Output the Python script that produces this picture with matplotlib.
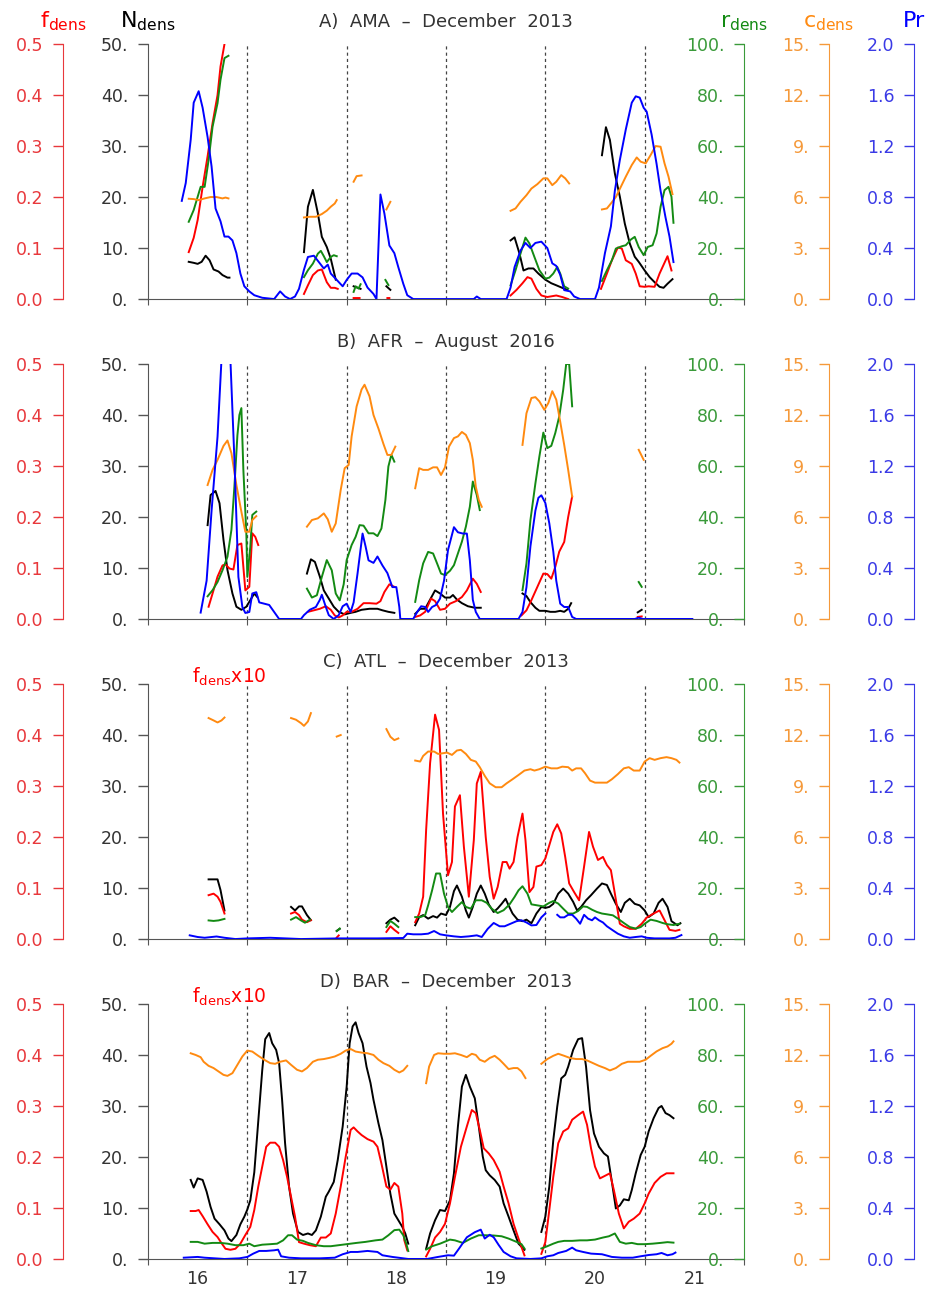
import numpy as np
import matplotlib
matplotlib.use('Agg')
import matplotlib.pyplot as plt

# ---------------- data (None = gap in the record) ----------------
# A) AMA - December 2013
ama_t_N = [15.91, 15.96, 16.00, 16.04, 16.08, 16.12, 16.16, 16.21, 16.25, 16.30, 16.32, None,
           17.07, 17.11, 17.16, 17.21, 17.25, 17.30, 17.34, 17.39, None,
           17.57, 17.64, None, 17.90, 17.94, None,
           19.15, 19.19, 19.24, 19.28, 19.33, 19.38, 19.43, 19.50, 19.56, 19.61, 19.67, 19.72, None,
           20.07, 20.11, 20.15, 20.20, 20.25, 20.30, 20.35, 20.40, 20.44, 20.50, 20.55, 20.60, 20.65, 20.69, 20.73, 20.78]
ama_N = [7.3, 7.1, 6.9, 7.3, 8.5, 7.6, 5.8, 5.4, 4.7, 4.2, 4.2, None,
         9.2, 18.1, 21.4, 16.8, 12.2, 10.2, 7.9, 3.8, None,
         2.5, 2.0, None, 2.5, 1.8, None,
         11.5, 12.1, 8.9, 5.6, 6.0, 6.0, 5.0, 3.8, 3.1, 2.7, 2.2, 1.8, None,
         28.2, 33.7, 31.2, 24.6, 20.1, 14.8, 10.9, 8.3, 7.3, 5.6, 4.3, 3.3, 2.4, 2.2, 3.0, 3.9]
ama_t_f = [15.91, 15.96, 16.00, 16.05, 16.10, 16.15, 16.20, 16.23, 16.27, None,
           17.07, 17.11, 17.16, 17.21, 17.25, 17.30, 17.34, 17.38, 17.41, None,
           17.57, 17.63, None, 17.91, 17.93, None,
           19.15, 19.21, 19.27, 19.32, 19.36, 19.41, 19.46, 19.52, 19.61, 19.67, 19.73, None,
           20.06, 20.12, 20.17, 20.23, 20.27, 20.31, 20.37, 20.41, 20.45, 20.50, 20.54, 20.60, 20.65, 20.73, 20.77]
ama_f = [0.092, 0.12, 0.155, 0.22, 0.28, 0.345, 0.40, 0.456, 0.50, None,
         0.01, 0.027, 0.047, 0.056, 0.058, 0.033, 0.022, 0.022, 0.02, None,
         0.002, 0.002, None, 0.002, 0.002, None,
         0.007, 0.018, 0.031, 0.043, 0.04, 0.02, 0.007, 0.004, 0.007, 0.004, 0.0, None,
         0.02, 0.05, 0.076, 0.101, 0.099, 0.076, 0.069, 0.05, 0.025, 0.024, 0.025, 0.024, 0.05, 0.084, 0.056]
ama_t_r = [15.91, 15.96, 16.00, 16.03, 16.07, 16.11, 16.15, 16.20, 16.23, 16.27, 16.31, None,
           17.07, 17.11, 17.16, 17.21, 17.24, 17.27, 17.30, 17.34, 17.37, 17.40, None,
           17.57, 17.59, 17.62, 17.64, None, 17.89, 17.92, None,
           19.15, 19.20, 19.25, 19.30, 19.34, 19.39, 19.44, 19.50, 19.54, 19.58, 19.62, 19.65, 19.69, 19.73, None,
           20.07, 20.12, 20.17, 20.21, 20.27, 20.31, 20.36, 20.40, 20.44, 20.49, 20.53, 20.58, 20.62, 20.66,
           20.70, 20.74, 20.77, 20.79]
ama_r = [30.3, 34.9, 40.1, 44.0, 44.0, 54.5, 67.6, 76.8, 86.0, 94.5, 95.4, None,
         8.6, 11.3, 13.9, 17.8, 18.9, 16.8, 14.5, 16.5, 17.2, 16.8, None,
         2.8, 5.0, 4.1, 5.8, None, 7.5, 5.5, None,
         5.4, 11.3, 17.8, 24.1, 21.8, 16.5, 11.3, 8.0, 8.4, 10.0, 12.6, 10.0, 5.0, 4.1, None,
         7.1, 11.3, 15.2, 19.8, 20.7, 21.1, 23.3, 24.4, 20.4, 17.2, 20.4, 21.1, 25.7, 36.2,
         42.7, 44.0, 40.1, 29.9]
ama_t_c = [15.91, 15.96, 16.01, 16.07, 16.13, 16.19, 16.25, 16.28, 16.31, None,
           17.07, 17.13, 17.19, 17.25, 17.30, 17.34, 17.38, 17.40, None,
           17.57, 17.60, 17.65, None, 17.90, 17.94, None,
           19.15, 19.20, 19.25, 19.31, 19.36, 19.42, 19.48, 19.52, 19.57, 19.61, 19.66, 19.70, 19.74, None,
           20.07, 20.12, 20.16, 20.21, 20.26, 20.31, 20.37, 20.42, 20.46, 20.51, 20.56, 20.61, 20.66, 20.70,
           20.74, 20.78]
ama_c = [5.9, 5.88, 5.82, 5.92, 6.0, 6.0, 5.92, 5.97, 5.92, None,
         4.8, 4.84, 4.84, 5.0, 5.2, 5.43, 5.62, 5.82, None,
         6.9, 7.23, 7.27, None, 5.27, 5.72, None,
         5.19, 5.33, 5.72, 6.11, 6.5, 6.76, 7.1, 7.1, 6.7, 6.9, 7.29, 7.1, 6.8, None,
         5.27, 5.33, 5.62, 6.0, 6.6, 7.2, 7.88, 8.33, 8.08, 7.98, 8.47, 9.0, 8.96, 7.98,
         7.2, 6.17]
ama_t_pr = [15.84, 15.88, 15.93, 15.96, 16.01, 16.05, 16.10, 16.14, 16.18, 16.23, 16.27, 16.31, 16.35,
            16.39, 16.43, 16.47, 16.52, 16.57, 16.65, 16.77, 16.83, 16.88, 16.93, 16.98, 17.02, 17.07,
            17.11, 17.17, 17.22, 17.27, 17.31, 17.34, 17.40, 17.46, 17.50, 17.55, 17.61, 17.66, 17.71,
            17.77, 17.80, 17.84, 17.88, 17.93, 17.98, 18.02, 18.07, 18.11, 18.17, 18.78, 18.81, 18.85,
            19.11, 19.15, 19.19, 19.25, 19.30, 19.35, 19.40, 19.46, 19.52, 19.57, 19.61, 19.65, 19.69,
            19.75, 19.79, 19.85, 20.00, 20.04, 20.10, 20.16, 20.20, 20.25, 20.31, 20.37, 20.41, 20.45,
            20.49, 20.52, 20.57, 20.62, 20.66, 20.71, 20.75, 20.79]
ama_pr = [0.77, 0.91, 1.25, 1.54, 1.63, 1.50, 1.27, 1.04, 0.71, 0.61, 0.49, 0.49, 0.46,
          0.36, 0.20, 0.10, 0.06, 0.03, 0.01, 0.0, 0.06, 0.02, 0.0, 0.02, 0.08, 0.23,
          0.33, 0.34, 0.29, 0.24, 0.27, 0.20, 0.15, 0.10, 0.15, 0.20, 0.20, 0.17, 0.09,
          0.04, 0.0, 0.82, 0.67, 0.42, 0.36, 0.25, 0.12, 0.03, 0.0, 0.0, 0.02, 0.0,
          0.0, 0.09, 0.25, 0.38, 0.44, 0.40, 0.44, 0.45, 0.40, 0.28, 0.26, 0.19, 0.07,
          0.06, 0.02, 0.0, 0.0, 0.09, 0.36, 0.57, 0.85, 1.09, 1.33, 1.54, 1.59, 1.58,
          1.50, 1.47, 1.29, 1.06, 0.85, 0.64, 0.49, 0.29]

# B) AFR - August 2016
afr_t_N = [16.10, 16.13, 16.18, 16.22, 16.26, 16.30, 16.35, 16.39, 16.44, 16.49, 16.53, 16.57, 16.60, None,
           17.10, 17.14, 17.18, 17.23, 17.27, 17.32, 17.37, 17.42, 17.48, 17.54, 17.59, 17.65, 17.73, 17.81,
           17.86, 17.92, 17.98, None,
           18.19, 18.24, 18.29, 18.34, 18.39, 18.44, 18.49, 18.54, 18.57, 18.61, 18.66, 18.72, 18.79, 18.85, None,
           19.27, 19.31, 19.35, 19.40, 19.44, 19.50, 19.55, 19.60, 19.65, 19.69, 19.73, 19.76, None,
           20.43, 20.47]
afr_N = [18.4, 24.3, 25.1, 22.7, 15.5, 9.6, 5.0, 2.4, 1.8, 2.4, 3.7, 5.0, 4.3, None,
         8.9, 11.7, 11.2, 8.3, 5.6, 4.0, 2.4, 1.4, 0.9, 1.2, 1.4, 1.8, 2.0, 2.0,
         1.7, 1.4, 1.2, None,
         1.0, 2.0, 2.0, 3.8, 5.6, 5.0, 4.2, 4.2, 4.7, 3.8, 3.1, 2.5, 2.2, 2.2, None,
         5.0, 4.5, 3.3, 2.2, 1.6, 1.6, 1.4, 1.4, 1.6, 1.4, 2.0, 3.1, None,
         1.3, 1.8]
afr_t_f = [16.11, 16.15, 16.20, 16.25, 16.28, 16.32, 16.36, 16.40, 16.44, 16.48, 16.52, 16.55, 16.58, 16.61, None,
           17.11, 17.17, 17.23, 17.29, 17.34, 17.38, 17.42, 17.46, 17.50, 17.55, 17.61, 17.67, 17.73, 17.80,
           17.84, 17.88, 17.93, 17.98, None,
           18.19, 18.24, 18.29, 18.35, 18.39, 18.44, 18.49, 18.54, 18.60, 18.66, 18.71, 18.77, 18.81, 18.85, None,
           19.26, 19.31, 19.36, 19.42, 19.48, 19.52, 19.56, 19.60, 19.64, 19.69, 19.73, 19.77, None,
           20.43, 20.47]
afr_f = [0.024, 0.05, 0.083, 0.105, 0.107, 0.099, 0.097, 0.145, 0.148, 0.056, 0.063, 0.168, 0.161, 0.145, None,
         0.014, 0.017, 0.02, 0.025, 0.018, 0.007, 0.003, 0.007, 0.014, 0.014, 0.02, 0.031, 0.031, 0.03,
         0.035, 0.053, 0.068, 0.063, None,
         0.004, 0.007, 0.014, 0.04, 0.035, 0.018, 0.02, 0.03, 0.035, 0.043, 0.056, 0.079, 0.069, 0.053, None,
         0.007, 0.017, 0.037, 0.063, 0.089, 0.088, 0.079, 0.102, 0.132, 0.151, 0.2, 0.24, None,
         0.004, 0.005]
afr_t_r = [16.10, 16.15, 16.20, 16.25, 16.30, 16.34, 16.37, 16.40, 16.42, 16.44, 16.46, 16.49, 16.50, 16.53,
           16.55, 16.59, None,
           17.10, 17.15, 17.20, 17.25, 17.30, 17.35, 17.39, 17.43, 17.47, 17.50, 17.55, 17.59, 17.63, 17.67,
           17.72, 17.77, 17.81, 17.85, 17.89, 17.92, 17.95, 17.98, None,
           18.19, 18.23, 18.27, 18.32, 18.37, 18.41, 18.45, 18.49, 18.54, 18.58, 18.62, 18.66, 18.70, 18.74,
           18.77, 18.81, 18.84, None,
           19.27, 19.31, 19.35, 19.40, 19.44, 19.48, 19.52, 19.56, 19.60, 19.64, 19.68, 19.71, 19.74, 19.77, None,
           20.44, 20.47]
afr_r = [8.9, 11.3, 14.5, 19.1, 24.4, 35.0, 52.0, 72.0, 80.0, 82.7, 58.5, 33.6, 16.5, 28.3,
         40.8, 42.1, None,
         11.9, 8.4, 9.3, 16.5, 23.1, 19.1, 10.0, 7.3, 13.6, 23.1, 29.0, 32.2, 36.8, 36.6,
         33.6, 33.6, 32.5, 35.5, 46.7, 59.8, 64.4, 61.7, None,
         6.7, 15.2, 21.8, 26.3, 25.7, 21.8, 17.8, 17.2, 18.9, 21.1, 25.7, 30.3, 36.2, 44.0,
         53.9, 48.6, 42.7, None,
         11.3, 21.8, 38.8, 53.2, 63.7, 73.1, 67.0, 67.9, 72.9, 79.4, 89.9, 100.0, 100.0, 83.4, None,
         14.5, 12.6]
afr_t_c = [16.10, 16.15, 16.20, 16.26, 16.30, 16.34, 16.39, 16.44, 16.48, 16.52, 16.55, 16.59, None,
           17.10, 17.15, 17.21, 17.27, 17.31, 17.35, 17.39, 17.44, 17.48, 17.52, 17.55, 17.60, 17.65, 17.68,
           17.73, 17.77, 17.82, 17.87, 17.91, 17.95, 17.99, None,
           18.19, 18.23, 18.27, 18.32, 18.37, 18.41, 18.45, 18.49, 18.53, 18.58, 18.62, 18.66, 18.70, 18.74,
           18.77, 18.80, 18.83, 18.86, None,
           19.27, 19.31, 19.36, 19.40, 19.44, 19.49, 19.53, 19.57, 19.61, 19.65, 19.69, 19.73, 19.77, None,
           20.44, 20.49]
afr_c = [7.88, 8.77, 9.36, 10.18, 10.5, 9.75, 7.88, 6.31, 5.13, 5.13, 5.82, 6.05, None,
         5.43, 5.82, 5.92, 6.21, 5.86, 5.13, 5.62, 7.59, 8.87, 9.06, 10.74, 12.5, 13.5, 13.78,
         13.1, 12.0, 11.2, 10.3, 9.65, 9.65, 10.14, None,
         7.69, 8.87, 8.77, 8.77, 8.92, 8.92, 8.47, 8.92, 10.14, 10.64, 10.74, 11.0, 10.83, 10.34,
         9.36, 7.78, 7.0, 6.6, None,
         10.24, 12.1, 13.0, 13.05, 12.8, 12.3, 12.7, 13.4, 12.9, 11.6, 10.24, 8.77, 7.2, None,
         9.95, 9.36]
afr_t_pr = [16.03, 16.09, 16.14, 16.20, 16.29, 16.37, 16.41, 16.45, 16.48, 16.52, 16.55, 16.59, 16.62,
            16.67, 16.72, 16.77, 16.82, 17.04, 17.07, 17.13, 17.19, 17.23, 17.25, 17.29, 17.32, 17.37,
            17.42, 17.46, 17.50, 17.54, 17.57, 17.61, 17.66, 17.69, 17.72, 17.77, 17.81, 17.86, 17.91,
            17.96, 18.00, 18.03, 18.04, 18.17, 18.21, 18.25, 18.29, 18.32, 18.36, 18.40, 18.44, 18.48,
            18.52, 18.58, 18.62, 18.67, 18.71, 18.74, 18.77, 18.80, 18.84, 19.23, 19.27, 19.31, 19.35,
            19.40, 19.43, 19.46, 19.50, 19.54, 19.58, 19.61, 19.65, 19.69, 19.73, 19.77, 19.81, 20.40,
            20.44, 20.48, 20.98]
afr_pr = [0.05, 0.30, 0.85, 1.43, 2.8, 1.25, 0.33, 0.094, 0.047, 0.055, 0.2, 0.21, 0.13,
          0.12, 0.11, 0.055, 0.0, 0.0, 0.03, 0.073, 0.094, 0.15, 0.19, 0.094, 0.03, 0.0,
          0.03, 0.1, 0.12, 0.055, 0.13, 0.36, 0.67, 0.57, 0.46, 0.44, 0.49, 0.42, 0.36,
          0.25, 0.25, 0.094, 0.0, 0.0, 0.055, 0.1, 0.094, 0.055, 0.094, 0.11, 0.16, 0.30,
          0.54, 0.72, 0.68, 0.67, 0.67, 0.46, 0.15, 0.055, 0.0, 0.0, 0.055, 0.25, 0.57,
          0.85, 0.95, 0.97, 0.91, 0.75, 0.53, 0.30, 0.12, 0.094, 0.094, 0.016, 0.0, 0.0,
          0.01, 0.0, 0.0]

# C) ATL - December 2013  (red curve is f_dens x 10)
atl_t_N = [16.11, 16.16, 16.20, 16.23, 16.27, None, 16.94, 16.98, 17.02, 17.05, 17.10, 17.14, None,
           17.40, 17.43, None, 17.90, 17.94, 17.98, 18.02, None,
           18.19, 18.23, 18.27, 18.32, 18.37, 18.41, 18.45, 18.50, 18.54, 18.58, 18.61, 18.66, 18.70,
           18.73, 18.77, 18.81, 18.85, 18.89, 18.93, 18.98, 19.02, 19.06, 19.10, 19.13, 19.17, 19.22,
           19.27, 19.31, 19.36, 19.41, 19.46, 19.50, 19.54, 19.58, 19.63, 19.68, 19.73, 19.78, 19.82,
           19.86, 19.91, 19.96, 20.02, 20.07, 20.12, 20.16, 20.21, 20.26, 20.30, 20.35, 20.40, 20.45,
           20.50, 20.54, 20.59, 20.64, 20.68, 20.73, 20.77, 20.83, 20.86]
atl_N = [11.7, 11.7, 11.7, 9.6, 5.6, None, 6.3, 5.6, 6.4, 6.4, 4.7, 3.7, None,
         1.6, 2.0, None, 3.1, 3.8, 4.2, 3.5, None,
         2.7, 4.3, 4.7, 4.0, 4.5, 4.2, 5.0, 4.7, 6.3, 9.4, 10.5, 8.3, 5.6,
         4.2, 6.3, 8.9, 10.5, 8.9, 6.8, 5.3, 6.0, 6.9, 7.9, 6.6, 5.0, 3.8,
         3.5, 3.8, 3.1, 5.0, 6.3, 6.1, 6.3, 6.9, 8.9, 9.9, 8.9, 7.3, 5.6,
         6.3, 7.6, 8.6, 9.9, 10.9, 10.6, 8.9, 6.9, 5.3, 7.1, 7.9, 6.9, 6.6,
         5.6, 4.3, 5.0, 7.1, 7.9, 6.3, 3.5, 2.7, 3.1]
atl_t_f = [16.11, 16.16, 16.20, 16.23, 16.27, None, 16.94, 16.98, 17.02, 17.05, 17.10, 17.14, None,
           17.40, 17.42, None, 17.90, 17.94, 17.98, 18.02, None,
           18.19, 18.23, 18.27, 18.30, 18.34, 18.39, 18.43, 18.47, 18.52, 18.56, 18.59, 18.64, 18.68,
           18.73, 18.78, 18.81, 18.85, 18.90, 18.94, 18.98, 19.02, 19.07, 19.11, 19.14, 19.18, 19.22,
           19.27, 19.30, 19.34, 19.38, 19.41, 19.46, 19.50, 19.54, 19.58, 19.62, 19.66, 19.70, 19.74,
           19.79, 19.84, 19.89, 19.94, 19.98, 20.03, 20.08, 20.12, 20.16, 20.20, 20.25, 20.29, 20.35,
           20.41, 20.47, 20.52, 20.59, 20.65, 20.70, 20.75, 20.81, 20.85]
atl_f10 = [0.086, 0.089, 0.083, 0.073, 0.05, None, 0.05, 0.053, 0.047, 0.038, 0.033, 0.037, None,
           0.003, 0.007, None, 0.014, 0.025, 0.018, 0.012, None,
           0.033, 0.05, 0.083, 0.214, 0.345, 0.44, 0.41, 0.246, 0.125, 0.151, 0.26, 0.282, 0.181,
           0.083, 0.194, 0.305, 0.328, 0.2, 0.122, 0.079, 0.102, 0.151, 0.151, 0.138, 0.151, 0.2,
           0.246, 0.194, 0.092, 0.102, 0.142, 0.145, 0.158, 0.184, 0.21, 0.225, 0.207, 0.161, 0.109,
           0.092, 0.076, 0.142, 0.21, 0.181, 0.155, 0.161, 0.145, 0.135, 0.089, 0.03, 0.025, 0.02,
           0.02, 0.03, 0.042, 0.05, 0.056, 0.037, 0.018, 0.016, 0.018]
atl_t_r = [16.11, 16.16, 16.21, 16.27, None, 16.94, 16.99, 17.04, 17.08, 17.13, None,
           17.40, 17.43, None, 17.90, 17.94, 17.98, 18.02, None,
           18.19, 18.24, 18.29, 18.32, 18.36, 18.40, 18.44, 18.48, 18.52, 18.56, 18.61, 18.66, 18.70,
           18.75, 18.80, 18.86, 18.91, 18.96, 19.02, 19.08, 19.14, 19.19, 19.23, 19.27, 19.32, 19.36,
           19.42, 19.48, 19.54, 19.58, 19.63, 19.68, 19.73, 19.78, 19.83, 19.88, 19.92, 19.97, 20.02,
           20.07, 20.12, 20.18, 20.23, 20.29, 20.35, 20.41, 20.46, 20.50, 20.56, 20.62, 20.68, 20.73,
           20.79, 20.85]
atl_r = [7.3, 7.1, 7.3, 7.9, None, 7.6, 8.6, 7.3, 6.4, 7.6, None,
         3.1, 4.1, None, 4.7, 7.1, 6.0, 4.7, None,
         8.6, 8.6, 9.3, 13.2, 19.1, 25.7, 25.7, 17.8, 12.6, 10.6, 12.6, 14.5, 12.6,
         11.9, 15.2, 15.2, 14.2, 11.9, 10.2, 11.3, 13.6, 16.5, 19.1, 20.7, 17.8, 13.6,
         13.2, 12.8, 14.2, 14.9, 13.9, 11.9, 10.0, 10.0, 11.0, 12.8, 12.6, 11.5, 10.6,
         10.0, 9.7, 9.3, 8.0, 6.3, 4.7, 4.1, 4.7, 6.0, 7.6, 7.1, 6.3, 5.8,
         5.5, 6.0]
atl_t_c = [16.11, 16.16, 16.20, 16.24, 16.27, None, 16.94, 16.99, 17.04, 17.07, 17.11, 17.14, None,
           17.40, 17.44, None, 17.90, 17.94, 17.98, 18.02, None,
           18.19, 18.24, 18.27, 18.32, 18.38, 18.42, 18.47, 18.51, 18.56, 18.61, 18.65, 18.70, 18.75,
           18.80, 18.84, 18.89, 18.94, 19.00, 19.06, 19.11, 19.17, 19.23, 19.29, 19.35, 19.39, 19.44,
           19.50, 19.56, 19.62, 19.67, 19.73, 19.77, 19.81, 19.86, 19.90, 19.95, 20.00, 20.06, 20.12,
           20.17, 20.23, 20.29, 20.34, 20.39, 20.45, 20.50, 20.55, 20.60, 20.66, 20.72, 20.77, 20.82,
           20.85]
atl_c = [13.0, 12.86, 12.74, 12.86, 13.03, None, 13.0, 12.9, 12.7, 12.54, 12.8, 13.29, None,
         11.91, 12.0, None, 12.35, 11.9, 11.7, 11.8, None,
         10.5, 10.44, 10.77, 11.03, 11.03, 10.89, 10.93, 10.97, 10.83, 11.09, 11.13, 10.89, 10.54,
         10.44, 10.11, 9.6, 9.16, 8.93, 8.93, 9.16, 9.4, 9.65, 9.91, 9.99, 9.91, 9.99,
         10.14, 10.04, 10.04, 10.14, 10.11, 9.91, 10.04, 10.04, 9.75, 9.32, 9.2, 9.2, 9.2,
         9.4, 9.7, 10.04, 10.11, 9.91, 9.91, 10.44, 10.64, 10.54, 10.64, 10.7, 10.64, 10.54,
         10.38]
atl_t_pr = [15.92, 16.00, 16.07, 16.19, 16.27, 16.38, 16.50, 16.73, 17.04, 17.42, 17.81, 18.07, 18.11,
            18.17, 18.25, 18.32, 18.38, 18.44, 18.50, 18.58, 18.65, 18.73, 18.81, 18.86, 18.92, 18.98,
            19.04, 19.09, 19.15, 19.21, 19.26, 19.31, 19.36, 19.41, 19.46, 19.50, None,
            19.62, 19.65, 19.69, 19.73, 19.77, 19.81, 19.85, 19.89, 19.93, 19.97, 20.00, 20.04, 20.08,
            20.12, 20.18, 20.23, 20.29, 20.35, 20.41, 20.47, 20.52, 20.60, 20.68, 20.75, 20.81, 20.87]
atl_pr = [0.029, 0.016, 0.01, 0.02, 0.01, 0.0, 0.005, 0.01, 0.0, 0.005, 0.005, 0.008, 0.042,
          0.037, 0.037, 0.042, 0.063, 0.037, 0.029, 0.021, 0.016, 0.021, 0.029, 0.016, 0.08, 0.126,
          0.1, 0.1, 0.12, 0.14, 0.147, 0.13, 0.107, 0.11, 0.17, 0.2, None,
          0.19, 0.17, 0.17, 0.19, 0.19, 0.16, 0.12, 0.19, 0.16, 0.147, 0.17, 0.147, 0.13,
          0.1, 0.068, 0.042, 0.021, 0.01, 0.016, 0.021, 0.01, 0.005, 0.005, 0.005, 0.01, 0.031]

# D) BAR - December 2013  (red curve is f_dens x 10)
bar_t_N = [15.93, 15.96, 16.00, 16.05, 16.09, 16.13, 16.17, 16.22, 16.27, 16.31, 16.34, 16.39, 16.43,
           16.47, 16.50, 16.53, 16.57, 16.61, 16.65, 16.68, 16.72, 16.75, 16.79, 16.82, 16.85, 16.88,
           16.92, 16.96, 17.01, 17.06, 17.11, 17.15, 17.19, 17.24, 17.29, 17.32, 17.37, 17.41, 17.46,
           17.50, 17.53, 17.56, 17.59, 17.62, 17.66, 17.70, 17.74, 17.77, 17.82, 17.86, 17.90, 17.94,
           17.98, 18.02, 18.06, 18.09, 18.12, None,
           18.30, 18.34, 18.39, 18.44, 18.49, 18.54, 18.58, 18.62, 18.66, 18.70, 18.74, 18.79, 18.83,
           18.87, 18.90, 18.94, 18.99, 19.04, 19.08, 19.13, 19.18, 19.23, 19.29, None,
           19.46, 19.50, 19.54, 19.58, 19.62, 19.66, 19.70, 19.73, 19.78, 19.83, 19.87, 19.91, 19.95,
           19.99, 20.04, 20.09, 20.13, 20.17, 20.21, 20.25, 20.29, 20.34, 20.37, 20.41, 20.46, 20.50,
           20.54, 20.59, 20.64, 20.67, 20.71, 20.75, 20.79]
bar_N = [15.5, 14.0, 15.8, 15.5, 13.2, 10.2, 7.9, 6.8, 5.6, 4.0, 3.5, 4.7, 6.8,
         8.3, 9.7, 11.5, 17.0, 27.0, 37.0, 43.1, 44.3, 42.3, 41.0, 38.4, 31.2, 22.7,
         14.2, 8.9, 5.3, 4.7, 5.0, 4.7, 5.6, 8.3, 12.2, 13.2, 15.1, 19.4, 26.0,
         33.8, 42.3, 45.6, 46.4, 44.3, 42.3, 37.7, 34.5, 31.2, 26.6, 23.3, 18.1, 12.8,
         8.9, 7.6, 6.3, 5.0, 3.0, None,
         2.0, 5.0, 7.6, 9.6, 9.4, 11.5, 16.8, 26.0, 33.8, 36.1, 33.8, 31.5, 26.0,
         20.1, 17.4, 16.4, 15.5, 14.2, 10.9, 8.3, 5.6, 3.0, 1.8, None,
         5.3, 8.3, 14.2, 23.3, 29.9, 35.4, 36.1, 37.7, 41.0, 43.1, 43.3, 37.7, 29.2,
         24.6, 22.0, 20.7, 20.1, 15.1, 9.9, 10.5, 11.7, 11.5, 13.5, 16.8, 20.4, 22.0,
         25.0, 27.6, 29.6, 30.0, 28.6, 28.2, 27.6]
bar_t_f = [15.93, 15.98, 16.01, 16.05, 16.10, 16.15, 16.20, 16.24, 16.28, 16.33, 16.38, 16.43, 16.48,
           16.53, 16.57, 16.61, 16.65, 16.69, 16.73, 16.78, 16.82, 16.86, 16.90, 16.94, 16.98, 17.02,
           17.07, 17.13, 17.19, 17.24, 17.29, 17.34, 17.39, 17.44, 17.49, 17.54, 17.57, 17.61, 17.65,
           17.71, 17.77, 17.81, 17.85, 17.90, 17.94, 17.98, 18.02, 18.06, 18.08, 18.11, None,
           18.30, 18.34, 18.39, 18.44, 18.49, 18.54, 18.59, 18.65, 18.71, 18.76, 18.80, 18.84, 18.88,
           18.93, 18.98, 19.04, 19.08, 19.13, 19.18, 19.23, 19.29, None,
           19.46, 19.50, 19.54, 19.58, 19.63, 19.68, 19.73, 19.77, 19.83, 19.88, 19.92, 19.96, 20.00,
           20.05, 20.10, 20.15, 20.19, 20.24, 20.29, 20.34, 20.39, 20.45, 20.50, 20.54, 20.60, 20.66,
           20.72, 20.79]
bar_f10 = [0.094, 0.094, 0.096, 0.084, 0.068, 0.053, 0.043, 0.031, 0.02, 0.018, 0.02, 0.03, 0.047,
           0.063, 0.096, 0.142, 0.181, 0.22, 0.228, 0.228, 0.22, 0.194, 0.161, 0.122, 0.083, 0.033,
           0.03, 0.027, 0.025, 0.042, 0.042, 0.05, 0.089, 0.142, 0.2, 0.253, 0.258, 0.25, 0.243,
           0.235, 0.23, 0.22, 0.187, 0.142, 0.136, 0.149, 0.142, 0.089, 0.037, 0.017, None,
           0.005, 0.02, 0.042, 0.053, 0.069, 0.109, 0.161, 0.22, 0.26, 0.292, 0.286, 0.253, 0.217,
           0.207, 0.194, 0.171, 0.142, 0.109, 0.069, 0.04, 0.007, None,
           0.01, 0.033, 0.096, 0.161, 0.227, 0.25, 0.256, 0.273, 0.282, 0.289, 0.263, 0.217, 0.181,
           0.158, 0.163, 0.168, 0.135, 0.089, 0.06, 0.073, 0.079, 0.089, 0.109, 0.128, 0.149, 0.161,
           0.168, 0.168]
bar_t_r = [15.93, 16.00, 16.07, 16.15, 16.23, 16.30, 16.38, 16.46, 16.52, 16.57, 16.65, 16.73, 16.80,
           16.86, 16.91, 16.95, 17.00, 17.06, 17.11, 17.19, 17.27, 17.34, 17.42, 17.50, 17.60, 17.69,
           17.79, 17.86, 17.92, 17.98, 18.03, 18.07, 18.10, 18.12, None,
           18.30, 18.36, 18.44, 18.54, 18.59, 18.67, 18.75, 18.83, 18.90, 18.98, 19.06, 19.13, 19.21,
           19.26, 19.29, None,
           19.46, 19.52, 19.58, 19.63, 19.69, 19.77, 19.85, 19.92, 20.00, 20.08, 20.14, 20.20, 20.25,
           20.31, 20.37, 20.43, 20.50, 20.58, 20.66, 20.73, 20.79]
bar_r = [6.7, 6.7, 6.0, 6.3, 6.3, 6.0, 5.4, 5.4, 6.0, 5.0, 5.6, 5.8, 6.0,
         7.3, 9.3, 9.3, 7.6, 7.1, 6.3, 5.4, 5.0, 5.0, 5.4, 5.8, 6.3, 6.7,
         7.3, 7.6, 9.3, 11.3, 11.5, 9.3, 6.0, 3.1, None,
         3.7, 5.0, 6.0, 7.6, 7.3, 6.3, 8.0, 9.3, 9.3, 9.2, 8.9, 8.0, 6.7,
         5.8, 4.1, None,
         4.1, 5.0, 6.0, 6.7, 7.1, 7.1, 7.3, 7.3, 7.6, 8.4, 8.9, 10.0, 6.7,
         6.0, 6.3, 5.8, 5.8, 6.0, 6.3, 6.6, 6.4]
bar_t_c = [15.93, 15.98, 16.03, 16.06, 16.11, 16.16, 16.21, 16.26, 16.30, 16.35, 16.40, 16.45, 16.50,
           16.55, 16.61, 16.67, 16.73, 16.78, 16.83, 16.89, 16.94, 17.00, 17.05, 17.10, 17.16, 17.21,
           17.27, 17.32, 17.38, 17.44, 17.49, 17.54, 17.59, 17.65, 17.71, 17.77, 17.82, 17.87, 17.93,
           17.98, 18.03, 18.07, 18.11, None,
           18.30, 18.33, 18.38, 18.42, 18.48, 18.54, 18.59, 18.65, 18.71, 18.76, 18.80, 18.84, 18.89,
           18.94, 18.99, 19.04, 19.08, 19.13, 19.18, 19.22, 19.26, 19.30, None,
           19.46, 19.52, 19.58, 19.63, 19.69, 19.75, 19.81, 19.87, 19.92, 19.98, 20.04, 20.10, 20.15,
           20.21, 20.27, 20.33, 20.39, 20.45, 20.51, 20.56, 20.62, 20.68, 20.73, 20.77, 20.79]
bar_c = [12.1, 12.0, 11.87, 11.6, 11.36, 11.23, 11.03, 10.83, 10.77, 10.93, 11.42, 11.91, 12.26,
         12.2, 11.95, 11.72, 11.52, 11.48, 11.6, 11.68, 11.42, 11.13, 11.03, 11.23, 11.6, 11.72,
         11.76, 11.82, 11.91, 12.07, 12.26, 12.35, 12.2, 12.14, 12.1, 12.0, 11.72, 11.52, 11.36,
         11.13, 10.97, 11.09, 11.36, None,
         10.34, 11.32, 12.0, 12.1, 12.07, 12.07, 12.1, 12.0, 11.87, 12.07, 12.0, 11.72, 11.6,
         11.82, 11.95, 11.72, 11.48, 11.17, 11.23, 11.23, 11.03, 10.64, None,
         11.48, 11.76, 11.95, 12.07, 11.95, 11.82, 11.76, 11.76, 11.68, 11.52, 11.36, 11.23, 11.09,
         11.23, 11.48, 11.6, 11.6, 11.6, 11.72, 11.95, 12.21, 12.4, 12.5, 12.66, 12.8]
bar_t_pr = [15.86, 16.00, 16.07, 16.27, 16.42, 16.50, 16.56, 16.62, 16.69, 16.77, 16.81, 16.84, 16.92,
            17.04, 17.23, 17.38, 17.46, 17.54, 17.61, 17.71, 17.81, 17.86, 17.96, 18.12, 18.31, 18.42,
            18.52, 18.58, 18.63, 18.71, 18.79, 18.85, 18.89, 18.94, 18.98, 19.03, 19.08, 19.15, 19.21,
            19.35, 19.46, 19.52, 19.58, 19.63, 19.71, 19.77, 19.81, 19.88, 19.96, 20.07, 20.17, 20.27,
            20.38, 20.46, 20.54, 20.62, 20.67, 20.73, 20.78, 20.81]
bar_pr = [0.01, 0.016, 0.01, 0.0, 0.005, 0.016, 0.042, 0.063, 0.063, 0.068, 0.073, 0.021, 0.01,
          0.005, 0.005, 0.01, 0.037, 0.055, 0.055, 0.063, 0.055, 0.029, 0.016, 0.0, 0.0, 0.016,
          0.029, 0.026, 0.08, 0.17, 0.21, 0.23, 0.16, 0.19, 0.17, 0.11, 0.055, 0.021, 0.005,
          0.0, 0.005, 0.021, 0.029, 0.047, 0.063, 0.089, 0.068, 0.055, 0.042, 0.037, 0.016, 0.01,
          0.01, 0.021, 0.031, 0.037, 0.047, 0.029, 0.037, 0.05]

titles = ['A)  AMA  \u2013  December  2013', 'B)  AFR  \u2013  August  2016',
          'C)  ATL  \u2013  December  2013', 'D)  BAR  \u2013  December  2013']
day_labels = ['16', '17', '18', '19', '20', '21']
midnights = [16.5, 17.5, 18.5, 19.5, 20.5]

# ---------------- styling ----------------
RED, RED_AX = '#ff0000', '#e8383c'
GRN, GRN_AX = '#138a13', '#3a9a3a'
ORG, ORG_AX = '#ff8a10', '#f5993a'
BLU, BLU_AX = '#0000ff', '#3a3ae6'
GRAY, TXT = '#555555', '#333333'
LW = 1.4
FS = 12.5

plt.rcParams['font.family'] = ['DejaVu Sans']


def arr(v):
    return np.array(v, dtype=float)


def side_axis(ax, pos, color, lim, ticks, labels):
    a = ax.twinx()
    a.set_xlim(15.5, 21.5)
    a.set_ylim(*lim)
    for s in ['top', 'bottom', 'right']:
        a.spines[s].set_visible(False)
    a.spines['left'].set_visible(True)
    a.spines['left'].set_position(('axes', pos))
    a.spines['left'].set_color(color)
    a.yaxis.tick_left()
    a.set_yticks(ticks)
    a.set_yticklabels(labels)
    a.tick_params(axis='y', colors=color, direction='out', length=7, width=1,
                  pad=7, labelsize=FS)
    return a


fig = plt.figure(figsize=(9.37, 12.89), dpi=100)

panels = [
    (ama_t_N, ama_N, ama_t_f, ama_f, ama_t_r, ama_r, ama_t_c, ama_c, ama_t_pr, ama_pr),
    (afr_t_N, afr_N, afr_t_f, afr_f, afr_t_r, afr_r, afr_t_c, afr_c, afr_t_pr, afr_pr),
    (atl_t_N, atl_N, atl_t_f, atl_f10, atl_t_r, atl_r, atl_t_c, atl_c, atl_t_pr, atl_pr),
    (bar_t_N, bar_N, bar_t_f, bar_f10, bar_t_r, bar_r, bar_t_c, bar_c, bar_t_pr, bar_pr),
]
bottoms = [0.7680, 0.5198, 0.2715, 0.0233]
L, W, H = 148 / 937, 596 / 937, 255 / 1289

for i, (tN, N, tf, f, tr, r, tc, c, tp, p) in enumerate(panels):
    ax = fig.add_axes([L, bottoms[i], W, H])
    ax.set_xlim(15.5, 21.5)
    ax.set_ylim(0, 50)
    for s in ['top', 'right']:
        ax.spines[s].set_visible(False)
    for s in ['left', 'bottom']:
        ax.spines[s].set_color(GRAY)
    ax.set_yticks([0, 10, 20, 30, 40, 50])
    ax.set_yticklabels(['0.', '10.', '20.', '30.', '40.', '50.'])
    ax.tick_params(axis='y', colors=GRAY, labelcolor=TXT, direction='out',
                   length=7, width=1, pad=7, labelsize=FS)
    ax.set_xticks(np.arange(15.5, 21.6, 1.0))
    ax.set_xticklabels([])
    ax.tick_params(axis='x', which='major', colors=GRAY, direction='out', length=4)
    ax.set_xticks(np.arange(16, 22, 1.0), minor=True)
    ax.set_xticklabels(day_labels if i == 3 else [], minor=True)
    ax.tick_params(axis='x', which='minor', length=0, pad=8, labelsize=FS, labelcolor=TXT)

    for xv in midnights:
        ax.axvline(xv, color='#444444', lw=0.9, ls=(0, (2.5, 2.5)), zorder=1)

    ax.plot(arr(tN), arr(N), color='black', lw=LW)

    ax_f = side_axis(ax, -0.1426, RED_AX, (0, 0.5), [0, 0.1, 0.2, 0.3, 0.4, 0.5],
                     ['0.0', '0.1', '0.2', '0.3', '0.4', '0.5'])
    ax_r = side_axis(ax, 1.0, GRN_AX, (0, 100), [0, 20, 40, 60, 80, 100],
                     ['0.', '20.', '40.', '60.', '80.', '100.'])
    ax_c = side_axis(ax, 1.1426, ORG_AX, (0, 15), [0, 3, 6, 9, 12, 15],
                     ['0.', '3.', '6.', '9.', '12.', '15.'])
    ax_p = side_axis(ax, 1.2852, BLU_AX, (0, 2), [0, 0.4, 0.8, 1.2, 1.6, 2.0],
                     ['0.0', '0.4', '0.8', '1.2', '1.6', '2.0'])

    ax_f.plot(arr(tf), arr(f), color=RED, lw=LW)
    ax_r.plot(arr(tr), arr(r), color=GRN, lw=LW)
    ax_c.plot(arr(tc), arr(c), color=ORG, lw=LW)
    ax_p.plot(arr(tp), arr(p), color=BLU, lw=LW)

    ax_p.text(0.5, 1.065, titles[i], transform=ax.transAxes, ha='center',
              va='baseline', fontsize=13, color=TXT)

    if i == 0:
        heads = [(-0.1426, 'f$_{\\rm dens}$', RED), (0.0, 'N$_{\\rm dens}$', 'black'),
                 (1.0, 'r$_{\\rm dens}$', GRN), (1.1426, 'c$_{\\rm dens}$', ORG),
                 (1.2852, 'Pr', BLU)]
        for xh, txt, col in heads:
            ax_p.text(xh, 1.065, txt, transform=ax.transAxes, ha='center',
                      va='baseline', fontsize=16, color=col)
    if i >= 2:
        ax_p.text(0.074, 1.005, 'f$_{\\rm dens}$x10', transform=ax.transAxes,
                  ha='left', va='baseline', fontsize=13.5, color=RED)

fig.savefig('out.png', dpi=100)
